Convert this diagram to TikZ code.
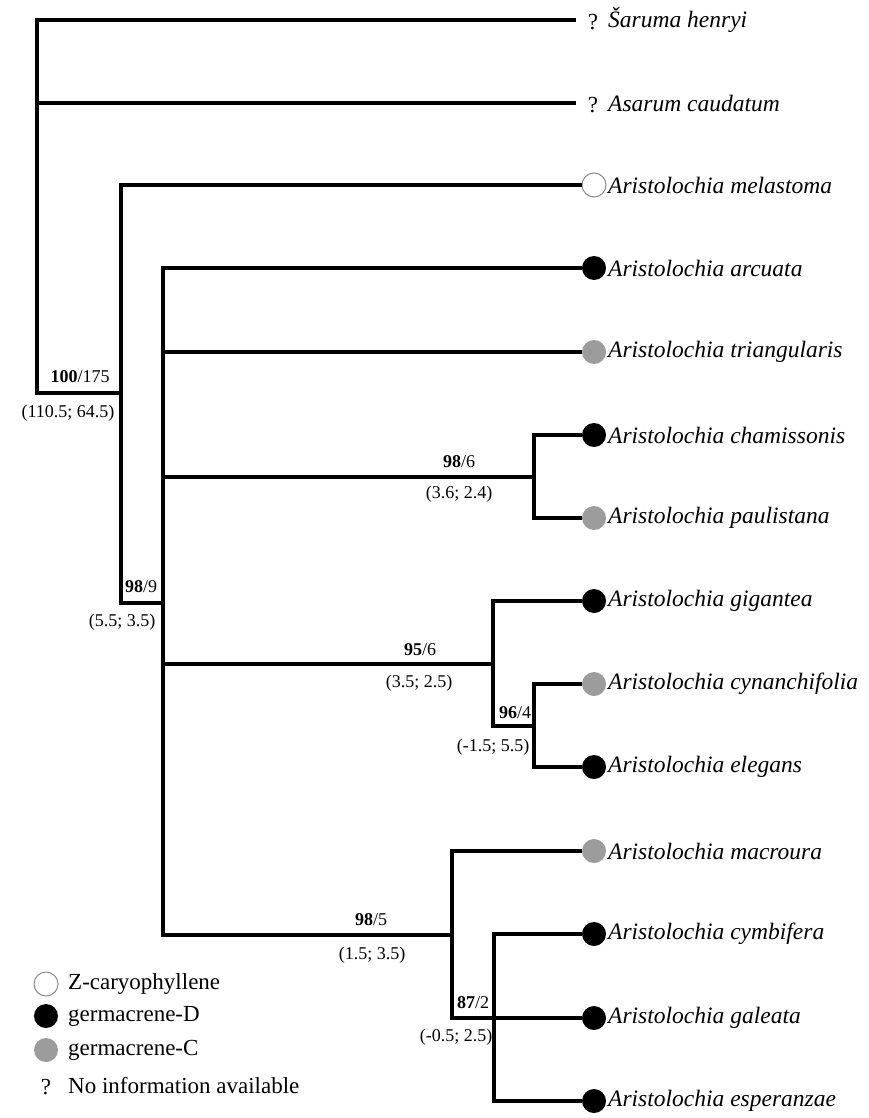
\documentclass[tikz,border=0pt]{standalone}
\usepackage{fontspec}
\setmainfont{Liberation Serif}
\definecolor{gC}{HTML}{9C9C9C}
\definecolor{ring}{HTML}{8A8A8A}
\begin{document}
\begin{tikzpicture}[x=1pt,y=-1pt,
  br/.style={line width=3.4pt, line join=miter},
  leaf/.style={anchor=west, inner sep=0pt, font=\fontsize{23.5}{27}\selectfont\itshape},
  qm/.style={inner sep=0pt, font=\fontsize{23}{27}\selectfont},
  dotw/.style={circle, minimum size=24pt, inner sep=0pt, draw=ring, line width=1pt, fill=white},
  dotb/.style={circle, minimum size=24pt, inner sep=0pt, fill=black},
  dotg/.style={circle, minimum size=24pt, inner sep=0pt, fill=gC},
  sup/.style={inner sep=0pt, font=\fontsize{18}{21}\selectfont},
  leg/.style={anchor=west, inner sep=0pt, font=\fontsize{23}{27}\selectfont}]
\useasboundingbox[fill=white] (0,0) rectangle (868,1118);

% leaves
\node[qm] (q1) at (593,22) {?};
\node[leaf] (t1) at (608,20) {Šaruma henryi};
\node[qm] (q2) at (593,105) {?};
\node[leaf] (t2) at (608,103) {Asarum caudatum};
\node[dotw] (c3) at (594,185) {};
\node[leaf] (t3) at (608,185) {Aristolochia melastoma};
\node[dotb] (c4) at (594,268) {};
\node[leaf] (t4) at (608,268) {Aristolochia arcuata};
\node[dotg] (c5) at (594,352) {};
\node[leaf] (t5) at (608,352) {Aristolochia triangularis};
\node[dotb] (c6) at (594,435) {};
\node[leaf] (t6) at (608,435) {Aristolochia chamissonis};
\node[dotg] (c7) at (594,518) {};
\node[leaf] (t7) at (608,518) {Aristolochia paulistana};
\node[dotb] (c8) at (594,601) {};
\node[leaf] (t8) at (608,601) {Aristolochia gigantea};
\node[dotg] (c9) at (594,684) {};
\node[leaf] (t9) at (608,684) {Aristolochia cynanchifolia};
\node[dotb] (c10) at (594,767) {};
\node[leaf] (t10) at (608,767) {Aristolochia elegans};
\node[dotg] (c11) at (594,851) {};
\node[leaf] (t11) at (608,851) {Aristolochia macroura};
\node[dotb] (c12) at (594,934) {};
\node[leaf] (t12) at (608,934) {Aristolochia cymbifera};
\node[dotb] (c13) at (594,1018) {};
\node[leaf] (t13) at (608,1018) {Aristolochia galeata};
\node[dotb] (c14) at (594,1101) {};
\node[leaf] (t14) at (608,1101) {Aristolochia esperanzae};

% internal coordinates
\coordinate (e1) at (576,20);
\coordinate (e2) at (576,103);
\coordinate (rt) at (37,20);
\coordinate (ra) at (37,103);
\coordinate (rb) at (37,393);
\coordinate (n1) at (121,393);
\coordinate (n1b) at (121,603);
\coordinate (n2m) at (163,603);
\coordinate (n2t) at (163,352);
\coordinate (n2a) at (163,477);
\coordinate (n2c) at (163,664);
\coordinate (n2b) at (163,935);
\coordinate (n3j) at (534,477);
\coordinate (n3b) at (534,518);
\coordinate (n4j) at (493,664);
\coordinate (n4b) at (493,726);
\coordinate (n5j) at (534,726);
\coordinate (n5b) at (534,767);
\coordinate (n6j) at (452,935);
\coordinate (n6b) at (452,1018);
\coordinate (n7b) at (494,1101);

% branches
\draw[br] (e1) -- (rt) -- (rb) -- (n1);
\draw[br] (ra) -- (e2);
\draw[br] (c3.west) -| (n1b) -- (n2m);
\draw[br] (c4.west) -| (n2b) -- (n6j);
\draw[br] (c5.west) -- (n2t);
\draw[br] (n2a) -- (n3j);
\draw[br] (c6.west) -| (n3b) -- (c7.west);
\draw[br] (n2c) -- (n4j);
\draw[br] (c8.west) -| (n4b) -- (n5j);
\draw[br] (c9.west) -| (n5b) -- (c10.west);
\draw[br] (c11.west) -| (n6b) -- (c13.west);
\draw[br] (c12.west) -| (n7b) -- (c14.west);

% support labels
\node[sup] (s1) at (80,377) {\textbf{100}/175};
\node[sup] (s1b) at (68,413) {(110.5; 64.5)};
\node[sup] (s2) at (141,587) {\textbf{98}/9};
\node[sup] (s2b) at (122,622) {(5.5; 3.5)};
\node[sup] (s3) at (459,462) {\textbf{98}/6};
\node[sup] (s3b) at (459,494) {(3.6; 2.4)};
\node[sup] (s4) at (420,650) {\textbf{95}/6};
\node[sup] (s4b) at (419,683) {(3.5; 2.5)};
\node[sup] (s5) at (515,713) {\textbf{96}/4};
\node[sup] (s5b) at (493,747) {(-1.5; 5.5)};
\node[sup] (s6) at (371,920) {\textbf{98}/5};
\node[sup] (s6b) at (372,955) {(1.5; 3.5)};
\node[sup] (s7) at (473,1003) {\textbf{87}/2};
\node[sup] (s7b) at (456,1037) {(-0.5; 2.5)};

% legend
\node[dotw] (l1) at (46,984) {};
\node[leg] (lt1) at (68,984) {Z-caryophyllene};
\node[dotb] (l2) at (46,1016) {};
\node[leg] (lt2) at (68,1016) {germacrene-D};
\node[dotg] (l3) at (46,1050) {};
\node[leg] (lt3) at (68,1050) {germacrene-C};
\node[qm] (l4) at (46,1087) {?};
\node[leg] (lt4) at (68,1086) {No information available};
\end{tikzpicture}
\end{document}
